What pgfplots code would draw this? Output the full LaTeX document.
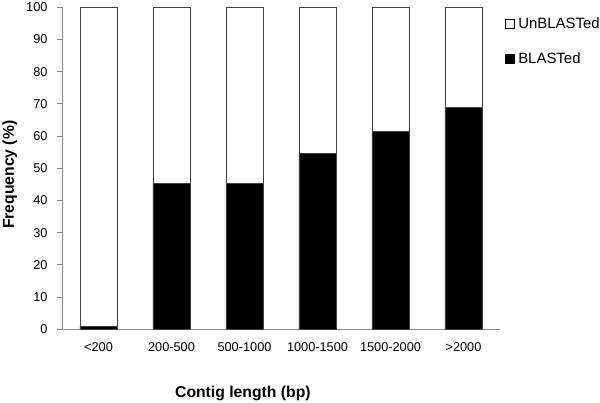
\documentclass[border=0pt]{standalone}
\usepackage{fontspec}
\setmainfont{Liberation Sans}
\usepackage{pgfplots}
\pgfplotsset{compat=1.18}
\usetikzlibrary{calc}
\definecolor{axgray}{HTML}{868686}
\definecolor{bargray}{HTML}{404040}

\begin{document}
\begin{tikzpicture}
\begin{axis}[
  name=ax, scale only axis, width=438bp, height=322bp,
  ybar stacked, bar width=37bp,
  xmin=-0.5, xmax=5.5, ymin=0, ymax=100,
  xtick=data, xticklabels={<200,200-500,500-1000,1000-1500,1500-2000,>2000},
  ytick={0,10,...,100},
  axis x line=bottom, axis y line=left,
  axis line style={-, draw=axgray, line width=0.9bp},
  x tick style={draw=none},
  y tick style={draw=axgray, line width=0.9bp},
  tick align=outside, major tick length=5bp,
  tick label style={font=\fontsize{12.8}{14}\selectfont},
  /pgf/number format/assume math mode=true,
  xticklabel style={yshift=-5bp},
  yticklabel style={xshift=-6bp},
  xlabel={Contig length (bp)}, ylabel={Frequency (\%)},
  label style={font=\bfseries\fontsize{15.8}{19}\selectfont},
  xlabel style={at={(axis description cs:0.413,-0.198)}, anchor=center},
  ylabel style={at={(axis description cs:-0.119,0.48)}, anchor=center, rotate=0},
  legend style={at={(axis description cs:1.011,0.975)}, anchor=north west,
    draw=none, fill=none, font=\fontsize{15}{17}\selectfont,
    row sep=19bp, inner sep=0pt},
  legend cell align=left,
  reverse legend,
  legend image code/.code={\draw[#1, draw=black, line width=0.6bp] (0bp,-4.5bp) rectangle (9bp,4.5bp);
    \path (10.5bp,0bp);},
]
\addplot[fill=black, draw=bargray, line width=0.9bp] coordinates {
(0,0.8) (1,45.4) (2,45.3) (3,54.7) (4,61.5) (5,68.9)};
\addlegendentry{BLASTed}
\addplot[fill=white, draw=bargray, line width=0.9bp] coordinates {
(0,99.2) (1,54.6) (2,54.7) (3,45.3) (4,38.5) (5,31.1)};
\addlegendentry{UnBLASTed}
\end{axis}
\pgfresetboundingbox
\path ($(ax.south west)+(-62bp,-73.7bp)$) rectangle ($(ax.south west)+(538bp,329.3bp)$);
\end{tikzpicture}
\end{document}
